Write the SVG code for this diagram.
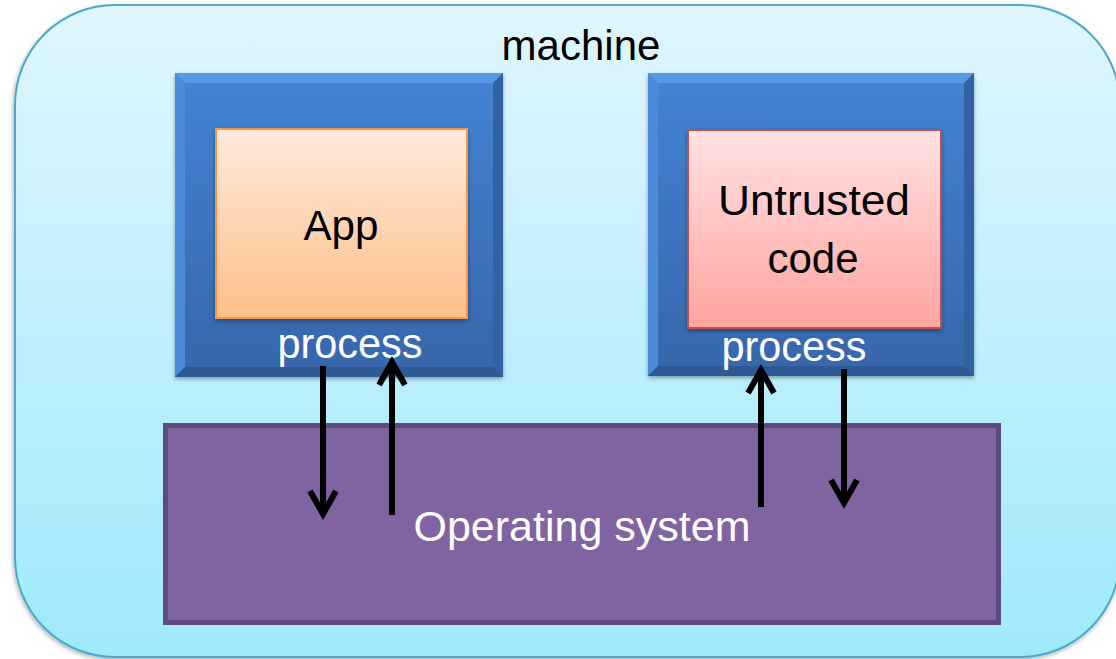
<svg xmlns="http://www.w3.org/2000/svg" width="1116" height="659" viewBox="0 0 1116 659">
  <style>
    .lbl { font-family: "Liberation Sans", Arial, sans-serif; font-size: 42px; text-anchor: middle; }
    .dark { fill: #000000; }
    .light { fill: #ffffff; }
    .proc { fill: url(#procFill); filter: url(#shadow); }
    .bevelTop { fill: #5898e4; }
    .bevelLeft { fill: #4c8bd9; }
    .bevelRight { fill: #3162a3; }
    .bevelBottom { fill: #2d5995; }
    .wire { stroke: #000000; stroke-width: 6; fill: none; marker-end: url(#chevron); }
  </style>
  <defs>
    <linearGradient id="machineFill" x1="0" y1="0" x2="0" y2="1">
      <stop offset="0" stop-color="#e0f6fd"/>
      <stop offset="1" stop-color="#9fe9fd"/>
    </linearGradient>
    <linearGradient id="procFill" x1="0" y1="0" x2="0" y2="1">
      <stop offset="0" stop-color="#4384d6"/>
      <stop offset="1" stop-color="#3766aa"/>
    </linearGradient>
    <linearGradient id="appFill" x1="0" y1="0" x2="0" y2="1">
      <stop offset="0" stop-color="#ffeadd"/>
      <stop offset="1" stop-color="#fdbf88"/>
    </linearGradient>
    <linearGradient id="codeFill" x1="0" y1="0" x2="0" y2="1">
      <stop offset="0" stop-color="#ffe2e2"/>
      <stop offset="1" stop-color="#ffa4a1"/>
    </linearGradient>
    <filter id="shadow" x="-10%" y="-10%" width="120%" height="125%">
      <feDropShadow dx="0" dy="2" stdDeviation="2" flood-color="#000000" flood-opacity="0.35"/>
    </filter>
    <filter id="outerShadow" x="-5%" y="-5%" width="110%" height="110%">
      <feDropShadow dx="-1" dy="2" stdDeviation="2" flood-color="#000000" flood-opacity="0.3"/>
    </filter>
    <marker id="chevron" markerUnits="userSpaceOnUse" markerWidth="40" markerHeight="40" refX="0" refY="0" orient="auto" overflow="visible">
      <path d="M-23,-13 L0,0 L-23,13" fill="none" stroke="#000000" stroke-width="6" stroke-linejoin="miter"/>
    </marker>
  </defs>

  <!-- machine container -->
  <g id="machine">
    <rect x="15" y="5" width="1105" height="652" rx="100" ry="100" fill="url(#machineFill)" stroke="#4aabc9" stroke-width="2" filter="url(#outerShadow)"/>
    <text class="lbl dark" x="581" y="60">machine</text>
  </g>

  <!-- operating system layer -->
  <g id="os">
    <rect x="165.5" y="425.5" width="833" height="197" fill="#8064a2" stroke="#5d4a7e" stroke-width="5"/>
    <text class="lbl light" x="582" y="541" font-size="43" textLength="337" lengthAdjust="spacingAndGlyphs">Operating system</text>
  </g>

  <!-- process hosting the app -->
  <g id="process-app">
    <rect class="proc" x="175" y="73" width="328" height="304"/>
    <polygon class="bevelTop" points="175,73 503,73 493,83 185,83"/>
    <polygon class="bevelLeft" points="175,73 185,83 185,367 175,377"/>
    <polygon class="bevelRight" points="503,73 503,377 493,367 493,83"/>
    <polygon class="bevelBottom" points="175,377 185,367 493,367 503,377"/>
    <text class="lbl light" x="350" y="358" textLength="145" lengthAdjust="spacingAndGlyphs">process</text>
  </g>
  <g id="app">
    <rect x="216" y="129" width="251" height="189" fill="url(#appFill)" stroke="#f79646" stroke-width="2" filter="url(#shadow)"/>
    <text class="lbl dark" x="341" y="240" textLength="75" lengthAdjust="spacingAndGlyphs">App</text>
  </g>

  <!-- process hosting the untrusted code -->
  <g id="process-untrusted">
    <rect class="proc" x="648" y="73" width="326" height="303"/>
    <polygon class="bevelTop" points="648,73 974,73 964,83 658,83"/>
    <polygon class="bevelLeft" points="648,73 658,83 658,366 648,376"/>
    <polygon class="bevelRight" points="974,73 974,376 964,366 964,83"/>
    <polygon class="bevelBottom" points="648,376 658,366 964,366 974,376"/>
    <text class="lbl light" x="794" y="361" textLength="145" lengthAdjust="spacingAndGlyphs">process</text>
  </g>
  <g id="untrusted-code">
    <rect x="688" y="130" width="253" height="198" fill="url(#codeFill)" stroke="#c0504d" stroke-width="2" filter="url(#shadow)"/>
    <text class="lbl dark" x="814" y="215" textLength="192" lengthAdjust="spacingAndGlyphs">Untrusted</text>
    <text class="lbl dark" x="813" y="273">code</text>
  </g>

  <!-- system calls between processes and the OS -->
  <g id="connectors">
    <path class="wire" d="M323,366 L323,514"/>
    <path class="wire" d="M392,515 L392,362"/>
    <path class="wire" d="M761,507 L761,370"/>
    <path class="wire" d="M844,369 L844,503"/>
  </g>
</svg>
